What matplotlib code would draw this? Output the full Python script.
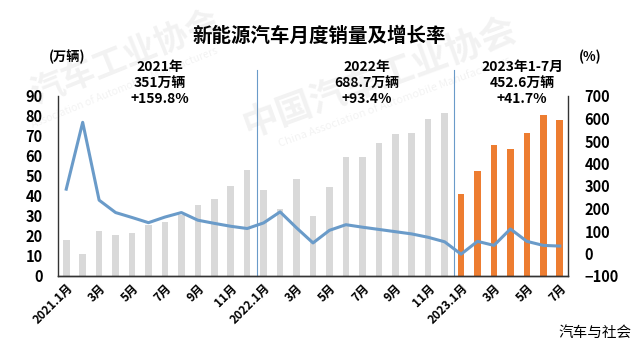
import matplotlib
matplotlib.use("Agg")
import matplotlib.pyplot as plt
import numpy as np

plt.rcParams['font.family'] = ['Noto Sans CJK SC', 'DejaVu Sans']

months = ["2021.1月", "2月", "3月", "4月", "5月", "6月", "7月", "8月", "9月", "10月", "11月", "12月",
          "2022.1月", "2月", "3月", "4月", "5月", "6月", "7月", "8月", "9月", "10月", "11月", "12月",
          "2023.1月", "2月", "3月", "4月", "5月", "6月", "7月"]
sales = [17.9, 11.0, 22.6, 20.6, 21.7, 25.6, 27.1, 30.5, 35.7, 38.3, 45.0, 53.1,
         43.1, 33.4, 48.4, 29.9, 44.7, 59.6, 59.3, 66.6, 70.8, 71.4, 78.6, 81.4,
         40.8, 52.5, 65.3, 63.6, 71.7, 80.6, 78.0]
growth = [286, 583, 237, 182, 160, 137, 162, 182, 148, 134, 121, 111,
          136, 185, 114, 47, 103, 128, 117, 107, 97, 87, 72, 52,
          -3, 54, 36, 109, 54, 36, 33]
annotations = [("2021年\n351万辆\n+159.8%", 160),
               ("2022年\n688.7万辆\n+93.4%", 367),
               ("2023年1-7月\n452.6万辆\n+41.7%", 522)]

gray = "#D9D9D9"
orange = "#ED7D31"
blue = "#6A9BC9"
W, H = 638, 349

fig = plt.figure(figsize=(6.38, 3.49), dpi=100)

ax = fig.add_axes([58/W, 1-276/H, (568-58)/W, 180/H])
ax2 = ax.twinx()

x = np.arange(len(sales))
colors = [orange if i >= 24 else gray for i in x]
ax.bar(x, sales, width=0.4, color=colors, zorder=2)
ax.set_xlim(-0.5, len(sales) - 0.5)
ax.set_ylim(0, 90)
ax.set_yticks(np.arange(0, 91, 10))
ax2.plot(x, growth, color=blue, lw=2.2, zorder=3)
ax2.set_ylim(-100, 700)
ax2.set_yticks(np.arange(-100, 701, 100))

for a in (ax, ax2):
    a.spines['top'].set_visible(False)
    for s in ('left', 'right', 'bottom'):
        a.spines[s].set_color('#333333')
        a.spines[s].set_linewidth(1.0)
    a.tick_params(length=0)
ax.spines['right'].set_visible(False)
ax2.spines['left'].set_visible(False)

ax.tick_params(axis='y', pad=11)
ax2.tick_params(axis='y', pad=12)
for lbl in ax.get_yticklabels() + ax2.get_yticklabels():
    lbl.set_fontweight('bold')
    lbl.set_fontsize(10.5)

tick_pos = x[::2]
ax.set_xticks(tick_pos)
ax.set_xticklabels([months[i] for i in tick_pos], rotation=45, ha='right',
                   rotation_mode='anchor', fontsize=8.5, fontweight='bold')
ax.tick_params(axis='x', pad=4)

for xv in (11.6, 23.55):
    ax.axvline(xv, ymin=0, ymax=1.145, color=blue, lw=0.8, clip_on=False, zorder=1)

for txt, xc in annotations:
    fig.text(xc/W, 1-83/H, txt, ha='center', va='center', fontsize=10, fontweight='bold',
             linespacing=1.15)

fig.text(0.5, 1-36/H, "新能源汽车月度销量及增长率", ha='center', va='center',
         fontsize=14, fontweight='bold')
fig.text(67/W, 1-57/H, "(万辆)", ha='center', va='center', fontsize=9.5, fontweight='bold')
fig.text(590/W, 1-57/H, "(%)", ha='center', va='center', fontsize=9.5, fontweight='bold')
fig.text(632/W, 1-333/H, "汽车与社会", ha='right', va='center', fontsize=10.5)

# faint watermark on top, semi-transparent
wm = dict(color="#808080", alpha=0.10, zorder=10)
fig.text(125/W, 1-58/H, "汽车工业协会", rotation=22, ha='center', va='center',
         fontsize=24, fontweight='bold', **wm)
fig.text(125/W, 1-88/H, "Association of Automobile Manufacturers", rotation=22,
         ha='center', va='center', fontsize=7.5, **wm)
fig.text(380/W, 1-78/H, "中国汽车工业协会", rotation=20, ha='center', va='center',
         fontsize=26, fontweight='bold', **wm)
fig.text(395/W, 1-102/H, "China Association of Automobile Manufacturers", rotation=20,
         ha='center', va='center', fontsize=8, **wm)

fig.savefig("out.png", dpi=100)
